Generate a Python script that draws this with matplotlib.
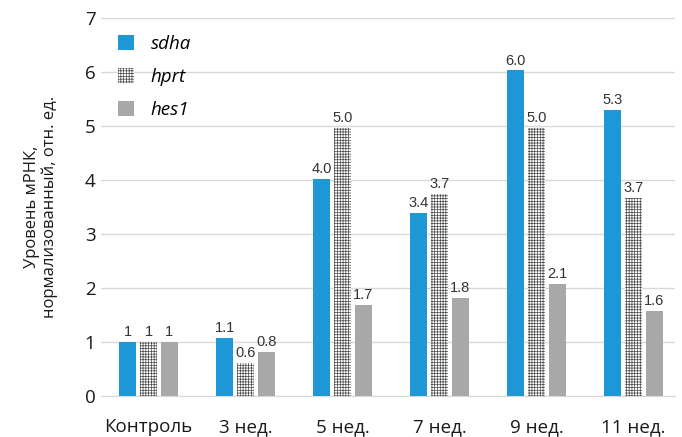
import matplotlib
matplotlib.use("Agg")
import matplotlib.pyplot as plt
import numpy as np
from matplotlib.patches import Patch

categories = ["Контроль", "3 нед.", "5 нед.", "7 нед.", "9 нед.", "11 нед."]
sdha = [1.0, 1.07, 4.02, 3.39, 6.03, 5.3]
hprt = [1.0, 0.62, 4.97, 3.74, 4.97, 3.67]
hes1 = [1.0, 0.81, 1.69, 1.81, 2.07, 1.57]
sdha_labels = ["1", "1.1", "4.0", "3.4", "6.0", "5.3"]
hprt_labels = ["1", "0.6", "5.0", "3.7", "5.0", "3.7"]
hes1_labels = ["1", "0.8", "1.7", "1.8", "2.1", "1.6"]
series_names = ["sdha", "hprt", "hes1"]
yticks = [0, 1, 2, 3, 4, 5, 6, 7]

plt.rcParams['font.family'] = ['Open Sans', 'DejaVu Sans']
plt.rcParams['hatch.linewidth'] = 0.5

fig = plt.figure(figsize=(6.82, 4.37), dpi=100)
ax = fig.add_axes([0.148, 0.0938, 0.842, 0.865])

x = np.arange(len(categories))
step = 0.216
w = 0.175
blue = "#1d97d5"
gray = "#a8a8a8"
hcol = "#4a4a4a"
hatch = "++++++"

b1 = ax.bar(x - step, sdha, w, color=blue, zorder=3)
b2 = ax.bar(x, hprt, w, color="white", edgecolor=hcol, hatch=hatch, linewidth=0, zorder=3)
b3 = ax.bar(x + step, hes1, w, color=gray, zorder=3)

lab_font = dict(family=['Liberation Sans', 'DejaVu Sans'], fontsize=10.5, color="#333333")
ax.bar_label(b1, labels=sdha_labels, padding=2, **lab_font)
ax.bar_label(b2, labels=hprt_labels, padding=2, **lab_font)
ax.bar_label(b3, labels=hes1_labels, padding=2, **lab_font)

ax.set_xlim(-0.49, 5.43)
ax.set_ylim(0, 7)
ax.set_yticks(yticks)
ax.set_xticks(x)
ax.set_xticklabels(categories, fontsize=13.5, color="#1a1a1a")
ax.tick_params(axis='y', labelsize=13.5, labelcolor="#1a1a1a", length=0, pad=4)
ax.tick_params(axis='x', length=0, pad=16)
ax.grid(axis='y', color="#d9d9d9", linewidth=1, zorder=0)
for s in ["top", "right", "left"]:
    ax.spines[s].set_visible(False)
ax.spines["bottom"].set_color("#d9d9d9")

ax.set_ylabel("Уровень мРНК,\nнормализованный, отн. ед.", fontsize=12, color="#1a1a1a",
              labelpad=19, multialignment='center', linespacing=1.1)

handles = [Patch(facecolor=blue), Patch(facecolor="white", edgecolor=hcol, hatch=hatch, linewidth=0),
           Patch(facecolor=gray)]
leg = ax.legend(handles, series_names, loc="upper left", bbox_to_anchor=(0.0, 1.0), frameon=False,
                prop=dict(family=['Open Sans', 'DejaVu Sans'], style='italic', size=13.5),
                handlelength=0.85, handleheight=0.85, labelspacing=0.8, handletextpad=0.9)

fig.savefig("out.png", dpi=100)
